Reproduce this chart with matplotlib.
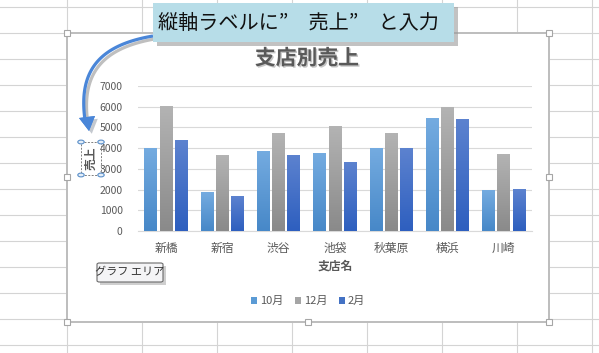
import numpy as np
import matplotlib.pyplot as plt
from matplotlib.patches import Rectangle, FancyBboxPatch, Circle, Polygon
from matplotlib.lines import Line2D
from matplotlib.colors import LinearSegmentedColormap
import matplotlib.patheffects as pe

plt.rcParams['font.family'] = ['Noto Sans CJK JP', 'DejaVu Sans']

# data
stores = ['新橋', '新宿', '渋谷', '池袋', '秋葉原', '横浜', '川崎']
months = ['10月', '12月', '2月']
sales_oct = [3970, 1840, 3830, 3730, 3970, 5430, 1940]
sales_dec = [6000, 3630, 4700, 5040, 4700, 5960, 3680]
sales_feb = [4360, 1650, 3630, 3300, 3970, 5380, 1990]
yticks = [0, 1000, 2000, 3000, 4000, 5000, 6000, 7000]

W, H = 599, 353
fig = plt.figure(figsize=(W / 100, H / 100), dpi=100)
fig.patch.set_facecolor('white')


def fx(x):
    return x / W


def fy(y):
    return 1 - y / H


def rect(x0, y0, x1, y1, **kw):
    r = Rectangle((fx(x0), fy(y1)), fx(x1) - fx(x0), fy(y0) - fy(y1),
                  transform=fig.transFigure, **kw)
    fig.add_artist(r)
    return r


# excel sheet grid behind the chart
for y in range(7, H, 26):
    fig.add_artist(Line2D([0, 1], [fy(y), fy(y)], transform=fig.transFigure,
                          color='#d4d4d4', lw=0.8, zorder=-5))
for x in range(67, W, 75):
    fig.add_artist(Line2D([fx(x), fx(x)], [0, 1], transform=fig.transFigure,
                          color='#d4d4d4', lw=0.8, zorder=-5))

# chart area
rect(67, 33, 549, 322, facecolor='white', edgecolor='#bdbdbd', lw=1.4, zorder=-4)
for hx, hy in [(67, 33), (308, 33), (549, 33), (67, 177), (549, 177),
               (67, 322), (308, 322), (549, 322)]:
    rect(hx - 3, hy - 3, hx + 3, hy + 3, facecolor='white', edgecolor='#a6a6a6',
         lw=0.8, zorder=-3)

# plot area
ax = fig.add_axes([fx(138), fy(231), (532 - 138) / W, (231 - 86) / H])
ax.set_facecolor('none')
x = np.arange(len(stores))
off = 0.27
bw = 0.23

series = [
    (sales_oct, '#5b9bd5', '#74abe0', '#4788c8'),
    (sales_dec, '#a5a5a5', '#b3b3b3', '#8a8a8a'),
    (sales_feb, '#4472c4', '#5c82cf', '#2e5fbf'),
]
grad = np.linspace(0, 1, 64).reshape(-1, 1)
bar_groups = []
for i, (vals, base, top, bottom) in enumerate(series):
    bars = ax.bar(x + (i - 1) * off, vals, bw, color=base, label=months[i], zorder=2)
    bar_groups.append(bars)
    cmap = LinearSegmentedColormap.from_list('g%d' % i, [bottom, top])
    for b in bars:
        x0, w, h = b.get_x(), b.get_width(), b.get_height()
        ax.imshow(grad, cmap=cmap, extent=(x0, x0 + w, 0, h), origin='lower',
                  aspect='auto', zorder=3, interpolation='bilinear')

ax.set_xlim(-0.5, len(stores) - 0.5)
ax.set_ylim(0, 7000)
ax.set_yticks(yticks)
ax.set_xticks(x)
ax.set_xticklabels(stores)
ax.tick_params(length=0, colors='#595959')
ax.tick_params(axis='y', pad=11, labelsize=7.5)
ax.tick_params(axis='x', pad=8, labelsize=8.5)
ax.grid(axis='y', color='#d9d9d9', lw=0.8, zorder=0)
for s in ['top', 'left', 'right']:
    ax.spines[s].set_visible(False)
ax.spines['bottom'].set_color('#d9d9d9')

fig.legend(handles=bar_groups, labels=months, loc='center',
           bbox_to_anchor=(fx(308), fy(301)), ncol=3, frameon=False,
           fontsize=8, handlelength=0.6, handleheight=0.6, handletextpad=0.25,
           columnspacing=1.0, labelcolor='#595959')

# titles
fig.text(fx(307), fy(58), '支店別売上', fontsize=15, fontweight='bold',
         color='#595959', ha='center', va='center',
         path_effects=[pe.withSimplePatchShadow(offset=(1, -1), alpha=0.25)])
fig.text(fx(335), fy(266), '支店名', fontsize=8.5, fontweight='bold',
         color='#595959', ha='center', va='center')
fig.text(fx(91), fy(158), '売上', fontsize=8.5, fontweight='bold', rotation=90,
         color='#595959', ha='center', va='center')

# selection box around the vertical axis title
rect(81, 142, 101, 175, facecolor='none', edgecolor='#7f7f7f', lw=0.7,
     ls=(0, (2, 1.5)), zorder=5)
for cx, cy in [(81, 142), (101, 142), (81, 175), (101, 175)]:
    fig.add_artist(Circle((fx(cx), fy(cy)), 3.2 / W, transform=fig.transFigure,
                          facecolor='#e3eef9', edgecolor='#5b8fc9', lw=0.8, zorder=6))

# callout at the top
rect(157, 7, 458, 46, facecolor='#9a9a9a', edgecolor='none', alpha=0.6, zorder=7)
rect(153, 3, 454, 42, facecolor='#b7dde8', edgecolor='none', zorder=8)
fig.text(fx(158), fy(23), '縦軸ラベルに”\u3000売上”\u3000と入力', fontsize=14.5,
         color='#111111', ha='left', va='center', zorder=9)

# curved arrow from the callout to the axis title
p0, p1, p2, p3 = (153, 36), (100, 45), (78, 70), (85, 120)
t = np.linspace(0, 1, 60)
cx_ = ((1 - t) ** 3 * p0[0] + 3 * (1 - t) ** 2 * t * p1[0]
       + 3 * (1 - t) * t ** 2 * p2[0] + t ** 3 * p3[0])
cy_ = ((1 - t) ** 3 * p0[1] + 3 * (1 - t) ** 2 * t * p1[1]
       + 3 * (1 - t) * t ** 2 * p2[1] + t ** 3 * p3[1])
fig.add_artist(Line2D(fx(cx_), fy(cy_), transform=fig.transFigure,
                      color='#4a86d8', lw=2.3, solid_capstyle='butt', zorder=7,
                      path_effects=[pe.SimpleLineShadow(offset=(2, -2), alpha=0.25),
                                    pe.Normal()]))
head = [(79, 118), (95, 116), (89, 131)]
fig.add_artist(Polygon([(fx(a), fy(b)) for a, b in head], closed=True,
                       transform=fig.transFigure, facecolor='#4a86d8',
                       edgecolor='none', zorder=7,
                       path_effects=[pe.withSimplePatchShadow(offset=(2, -2), alpha=0.25),
                                     pe.Normal()]))

# chart area tooltip
rect(100, 266, 166, 285, facecolor='#b0b0b0', edgecolor='none', alpha=0.6, zorder=7)
tip = FancyBboxPatch((fx(97), fy(282)), fx(163) - fx(97), fy(263) - fy(282),
                     boxstyle='round,pad=0,rounding_size=0.004',
                     transform=fig.transFigure, facecolor='#f4f4f6',
                     edgecolor='#6b6b6b', lw=0.8, zorder=8)
fig.add_artist(tip)
fig.text(fx(130), fy(272.5), 'グラフ エリア', fontsize=8, color='#333333',
         ha='center', va='center', zorder=9)

fig.savefig('out.png', dpi=100)
